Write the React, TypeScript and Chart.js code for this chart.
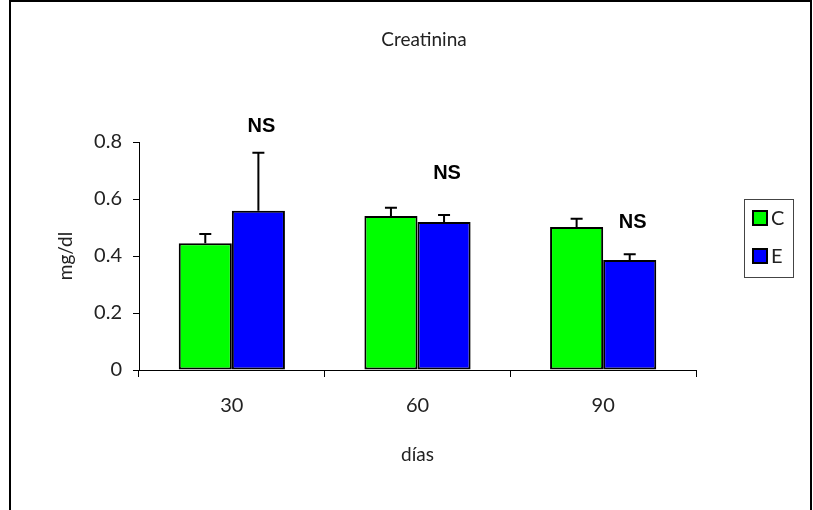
import React, { useEffect, useRef } from 'react';
import { Chart, registerables } from 'chart.js';

Chart.register(...registerables);

const chartTitle = 'Creatinina';
const xAxisTitle = 'días';
const yAxisTitle = 'mg/dl';
const categories = ['30', '60', '90'];
const seriesLabels = ['C', 'E'];
const controlValues = [0.445, 0.54, 0.502];
const controlErrors = [0.032, 0.029, 0.029];
const experimentalValues = [0.559, 0.519, 0.386];
const experimentalErrors = [0.203, 0.025, 0.02];
const significanceLabels = ['NS', 'NS', 'NS'];
const significanceLevels = [0.856, 0.688, 0.519];
const yMin = 0;
const yMax = 0.8;
const yStep = 0.2;

const seriesColors = ['#00FF00', '#0000FF'];
const TEXT_FONT = 'Lato, "Open Sans", sans-serif';
const TEXT_COLOR = '#222222';

const framePlugin = {
  id: 'frame',
  beforeDraw(chart: any) {
    const ctx = chart.ctx;
    ctx.save();
    ctx.fillStyle = '#ffffff';
    ctx.fillRect(0, 0, chart.width, chart.height);
    ctx.strokeStyle = '#000000';
    ctx.lineWidth = 2;
    ctx.strokeRect(10, 1, 801, chart.height + 20);
    ctx.fillStyle = TEXT_COLOR;
    ctx.font = `19px ${TEXT_FONT}`;
    ctx.textAlign = 'center';
    ctx.textBaseline = 'middle';
    ctx.fillText(chartTitle, 424, 40);
    ctx.restore();
  },
};

const errorBarPlugin = {
  id: 'errorBars',
  afterDatasetsDraw(chart: any) {
    const ctx = chart.ctx;
    const yScale = chart.scales.y;
    ctx.save();
    ctx.strokeStyle = '#000000';
    ctx.lineWidth = 2;
    chart.data.datasets.forEach((ds: any, di: number) => {
      const meta = chart.getDatasetMeta(di);
      meta.data.forEach((bar: any, i: number) => {
        const v = ds.data[i];
        const e = ds.errors[i];
        const yTop = yScale.getPixelForValue(v + e);
        ctx.beginPath();
        ctx.moveTo(bar.x, bar.y);
        ctx.lineTo(bar.x, yTop);
        ctx.moveTo(bar.x - 6, yTop);
        ctx.lineTo(bar.x + 6, yTop);
        ctx.stroke();
      });
    });
    const meta = chart.getDatasetMeta(1);
    ctx.fillStyle = '#000000';
    ctx.font = 'bold 20px "Liberation Sans", Arial, sans-serif';
    ctx.textAlign = 'center';
    ctx.textBaseline = 'middle';
    significanceLabels.forEach((label, i) => {
      const bar = meta.data[i];
      ctx.fillText(label, bar.x + 3, yScale.getPixelForValue(significanceLevels[i]));
    });
    ctx.restore();
  },
};

const legendPlugin = {
  id: 'customLegend',
  afterDraw(chart: any) {
    const ctx = chart.ctx;
    ctx.save();
    ctx.strokeStyle = '#444444';
    ctx.lineWidth = 1;
    ctx.strokeRect(744.5, 199.5, 49, 78);
    chart.data.datasets.forEach((ds: any, i: number) => {
      const y = 211 + i * 38;
      ctx.fillStyle = ds.backgroundColor;
      ctx.fillRect(753, y, 14, 14);
      ctx.strokeStyle = '#000000';
      ctx.lineWidth = 2;
      ctx.strokeRect(753, y, 14, 14);
      ctx.fillStyle = TEXT_COLOR;
      ctx.font = `20px ${TEXT_FONT}`;
      ctx.textAlign = 'left';
      ctx.textBaseline = 'middle';
      ctx.fillText(ds.label, 771, y + 8);
    });
    ctx.restore();
  },
};

export default function App() {
  const canvasRef = useRef<HTMLCanvasElement | null>(null);

  useEffect(() => {
    if (!canvasRef.current) return;
    const chart = new Chart(canvasRef.current, {
      type: 'bar',
      data: {
        labels: categories,
        datasets: [
          {
            label: seriesLabels[0],
            data: controlValues,
            errors: controlErrors,
            backgroundColor: seriesColors[0],
            borderColor: '#000000',
            borderWidth: 2,
            borderSkipped: false,
          } as any,
          {
            label: seriesLabels[1],
            data: experimentalValues,
            errors: experimentalErrors,
            backgroundColor: seriesColors[1],
            borderColor: '#000000',
            borderWidth: 2,
            borderSkipped: false,
          } as any,
        ],
      },
      options: {
        responsive: false,
        animation: false,
        devicePixelRatio: 1,
        layout: { padding: { left: 50, right: 117, top: 142, bottom: 39.6 } },
        datasets: { bar: { categoryPercentage: 0.572, barPercentage: 1.0 } },
        plugins: {
          legend: { display: false },
          title: { display: false },
          tooltip: { enabled: false },
        },
        scales: {
          x: {
            offset: true,
            grid: {
              offset: true,
              drawOnChartArea: false,
              drawTicks: true,
              tickLength: 7,
              color: '#000000',
            },
            border: { display: true, color: '#000000', width: 1 },
            ticks: { font: { size: 20, family: TEXT_FONT }, color: TEXT_COLOR, padding: 17 },
            title: {
              display: true,
              text: xAxisTitle,
              font: { size: 19, family: TEXT_FONT },
              color: TEXT_COLOR,
            },
            afterFit(scale: any) {
              scale.height = 100.4;
            },
          },
          y: {
            min: yMin,
            max: yMax,
            grid: {
              drawOnChartArea: false,
              drawTicks: true,
              tickLength: 6,
              color: '#000000',
            },
            border: { display: true, color: '#000000', width: 1 },
            ticks: {
              stepSize: yStep,
              font: { size: 20, family: TEXT_FONT },
              color: TEXT_COLOR,
              padding: 11,
            },
            title: {
              display: true,
              text: yAxisTitle,
              font: { size: 19, family: TEXT_FONT },
              color: TEXT_COLOR,
            },
            afterFit(scale: any) {
              scale.width = 89;
            },
          },
        },
      },
      plugins: [framePlugin, errorBarPlugin, legendPlugin],
    });
    return () => chart.destroy();
  }, []);

  return (
    <div style={{ position: 'absolute', left: 0, top: 0, width: 813, height: 510 }}>
      <canvas ref={canvasRef} width={813} height={510} />
    </div>
  );
}
